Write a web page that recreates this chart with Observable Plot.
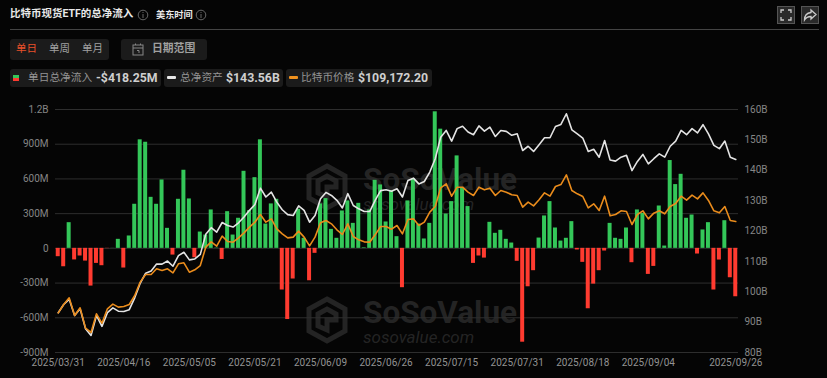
<!DOCTYPE html>
<html><head><meta charset="utf-8">
<script src="https://cdn.jsdelivr.net/npm/d3@7"></script>
<script src="https://cdn.jsdelivr.net/npm/@observablehq/plot@0.6"></script>
<style>
html,body{margin:0;padding:0;background:#050505;width:827px;height:378px;overflow:hidden;font-family:Roboto,"Noto Sans CJK SC",sans-serif}
.a{position:absolute;white-space:nowrap;line-height:1}
.box{position:absolute;background:#1b1b1b;border-radius:3px}
.lab{color:#949494;font-size:11px}
.val{color:#cfcfcf;font-size:12.3px;font-weight:700}
.wm{color:#242424;font-weight:700}
#chart{position:absolute;left:0;top:95px}
#chart svg{background:transparent;display:block}
</style></head><body>
<div class="a wm" style="left:363px;top:165px;font-size:31.5px;line-height:30px">SoSoValue</div>
<div class="a wm" style="left:363px;top:196px;font-size:17px;line-height:17px;font-weight:400;font-style:italic">sosovalue.com</div>
<div class="a wm" style="left:363px;top:298px;font-size:31.5px;line-height:30px">SoSoValue</div>
<div class="a wm" style="left:363px;top:329px;font-size:17px;line-height:17px;font-weight:400;font-style:italic">sosovalue.com</div>
<svg class="a" style="left:306px;top:163px" width="42" height="48" viewBox="0 0 42 48" fill="none" stroke="#242424" stroke-width="5"><path d="M21 3 39 13V35L21 45 3 35V13Z"/><path d="M12 18 21 13 30 18V24H21V34L12 30Z"/></svg>
<svg class="a" style="left:306px;top:296px" width="42" height="48" viewBox="0 0 42 48" fill="none" stroke="#242424" stroke-width="5"><path d="M21 3 39 13V35L21 45 3 35V13Z"/><path d="M12 18 21 13 30 18V24H21V34L12 30Z"/></svg>

<div class="a" style="left:10px;top:9px;font-size:10.5px;font-weight:700;color:#e8e8e8">比特币现货ETF的总净流入</div>
<svg class="a" style="left:137px;top:9px" width="12" height="12" fill="none" stroke="#666"><circle cx="6" cy="6" r="4.8"/><path d="M6 5V9M6 3V4"/></svg>
<div class="a" style="left:156px;top:10px;font-size:9.2px;font-weight:700;color:#e8e8e8">美东时间</div>
<svg class="a" style="left:195px;top:9px" width="12" height="12" fill="none" stroke="#666"><circle cx="6" cy="6" r="4.8"/><path d="M6 5V9M6 3V4"/></svg>
<div class="a" style="left:10px;top:29px;width:809px;height:1px;background:#444"></div>
<div class="a" style="left:777px;top:6px;width:16px;height:16px;background:#2a2a2a;border:1px solid #555"></div>
<div class="a" style="left:801px;top:6px;width:16px;height:16px;background:#2a2a2a;border:1px solid #555"></div>
<svg class="a" style="left:777px;top:6px" width="18" height="18" fill="none" stroke="#ccc" stroke-width="1.3"><path d="M4 7V4H7M11 4H14V7M14 11V14H11M7 14H4V11"/></svg>
<svg class="a" style="left:801px;top:6px" width="18" height="18" fill="none" stroke="#ccc" stroke-width="1.3"><path d="M10 4 15 8.5 10 13V10.5C7 10.5 5 11.5 3.5 14 3.5 10 6 7 10 6.5Z"/></svg>

<div class="box" style="left:10px;top:39px;width:99px;height:21px"></div>
<div class="a" style="left:16px;top:44px;font-size:10.5px;color:#e8502a">单日</div>
<div class="a" style="left:49px;top:44px;font-size:10.5px;color:#a0a0a0">单周</div>
<div class="a" style="left:82px;top:44px;font-size:10.5px;color:#a0a0a0">单月</div>
<div class="box" style="left:121px;top:39px;width:86px;height:21px"></div>
<svg class="a" style="left:131px;top:42px" width="14" height="15" fill="none" stroke="#888"><rect x="2" y="3" width="10" height="10"/><path d="M2 6H12M4.5 1.5V3M9.5 1.5V3M6 8.5H8V11"/></svg>
<div class="a" style="left:152px;top:44px;font-size:10.8px;font-weight:700;color:#a0a0a0">日期范围</div>

<div class="box" style="left:10px;top:69px;width:151px;height:18px"></div>
<div class="a" style="left:13px;top:75px;width:6px;height:3px;background:#34c759"></div>
<div class="a" style="left:13px;top:78px;width:6px;height:3px;background:#ff3b30"></div>
<div class="a lab" style="left:28px;top:73px;font-size:10.7px">单日总净流入</div>
<div class="a val" style="left:96px;top:72px">-$418.25M</div>
<div class="box" style="left:164px;top:69px;width:119px;height:18px"></div>
<div class="a" style="left:167px;top:76px;width:9px;height:3px;border-radius:1px;background:#e8e8e8"></div>
<div class="a lab" style="left:180px;top:73px;font-size:10.7px">总净资产</div>
<div class="a val" style="left:226px;top:72px">$143.56B</div>
<div class="box" style="left:286px;top:69px;width:146px;height:18px"></div>
<div class="a" style="left:289px;top:76px;width:9px;height:3px;border-radius:1px;background:#f0921e"></div>
<div class="a lab" style="left:301px;top:73px;font-size:10.7px">比特币价格</div>
<div class="a val" style="left:358px;top:72px">$109,172.20</div>

<div id="chart"></div>
<script>
const dates = [
"03/31","04/01","04/02","04/03","04/04","04/07","04/08","04/09","04/10","04/11","04/14","04/15","04/16","04/17",
"04/21","04/22","04/23","04/24","04/25","04/28","04/29","04/30","05/01","05/02","05/05","05/06","05/07","05/08","05/09",
"05/12","05/13","05/14","05/15","05/16","05/19","05/20","05/21","05/22","05/23","05/27","05/28","05/29","05/30",
"06/02","06/03","06/04","06/05","06/06","06/09","06/10","06/11","06/12","06/13","06/16","06/17","06/18","06/20",
"06/23","06/24","06/25","06/26","06/27","06/30","07/01","07/02","07/03","07/07","07/08","07/09","07/10","07/11",
"07/14","07/15","07/16","07/17","07/18","07/21","07/22","07/23","07/24","07/25","07/28","07/29","07/30","07/31",
"08/01","08/04","08/05","08/06","08/07","08/08","08/11","08/12","08/13","08/14","08/15","08/18","08/19","08/20","08/21","08/22",
"08/25","08/26","08/27","08/28","08/29","09/02","09/03","09/04","09/05","09/08","09/09","09/10","09/11","09/12",
"09/15","09/16","09/17","09/18","09/19","09/22","09/23","09/24","09/25","09/26"
].map(d => "2025/" + d);
const netFlowM = [
-72,-159,222,-100,-66,-110,-326,-130,-150,-2,1,78,-170,107,381,938,917,441,381,591,173,-58,424,675,427,-81,141,115,332,3,-96,317,115,260,
666,326,611,938,210,384,424,-360,-615,-265,338,87,-280,-43,384,430,164,87,323,410,216,389,5,332,588,548,228,499,101,-340,410,603,210,81,216,
1180,1030,297,404,799,519,361,-130,-66,-84,225,130,156,78,46,-112,-811,-332,-193,89,280,404,176,63,87,231,-14,-121,-522,-309,-193,-23,216,87,78,
176,-124,332,303,-225,-156,366,20,759,551,640,260,288,-49,159,222,-360,-101,239,-254,-418.25];
const totalAssetsB = [
93.1,95.8,97.5,92.2,94.4,87.8,85.6,92.2,88.6,93.1,94.7,93.6,93.5,94.1,98.0,102.8,106.1,106.8,109.1,109.1,110.1,108.4,111.9,113.0,110.5,110.8,112.3,118.9,121.1,119.6,122.8,121.8,121.3,122.7,
124.6,126.8,128.7,134.1,131.2,132.8,129.5,127.0,125.4,125.1,128.3,126.8,122.9,125.1,130.6,132.7,131.7,130.1,127.6,132.3,128.4,127.3,126.4,126.4,130.1,133.3,133.6,133.1,133.9,131.2,136.6,137.4,135.5,136.3,139.4,
143.8,150.9,153.1,149.6,153.7,154.5,152.6,151.7,154.6,152.9,154.2,151.1,153.1,152.8,151.5,152.0,146.5,147.9,146.2,148.4,150.7,150.7,154.4,155.1,158.6,153.3,152.0,150.6,146.2,146.9,144.3,149.8,143.4,143.0,144.3,
144.9,139.9,142.9,145.2,142.1,143.8,145.4,144.3,147.9,149.6,153.1,151.7,153.7,152.3,155.0,152.0,148.2,147.1,149.6,144.3,143.56];
const btcPriceK = [
82.40,84.84,86.80,81.62,83.87,77.91,76.64,82.11,79.37,83.57,84.94,84.06,84.26,84.84,87.48,91.39,93.64,93.64,95.30,94.81,95.30,94.12,96.76,97.06,94.32,95.00,96.27,101.65,103.21,101.94,104.87,103.31,103.11,104.38,
105.85,107.51,108.97,111.22,108.97,109.95,107.02,105.56,104.38,104.58,106.34,104.58,102.04,104.58,108.78,109.46,108.49,106.73,105.36,108.49,104.77,103.80,103.21,103.11,105.26,107.70,107.70,106.92,108.00,105.56,109.76,109.95,108.00,108.97,111.91,
113.57,119.04,120.21,116.60,119.23,119.23,117.77,116.79,119.23,118.45,118.94,116.79,118.26,117.77,116.99,116.79,113.37,114.84,113.76,115.52,117.57,116.60,119.43,120.01,122.85,118.26,117.28,116.50,113.18,114.35,112.39,116.60,110.83,111.22,112.30,
112.10,108.29,111.22,112.30,109.95,111.61,112.30,111.42,113.57,114.45,116.60,115.42,116.89,115.81,117.57,115.33,112.30,111.71,113.57,109.46,109.17];
const leftTicks = [-900,-600,-300,0,300,600,900,1200];
const leftLabels = ["-900M","-600M","-300M","0","300M","600M","900M","1.2B"];
const rightTicks = [80,90,100,110,120,130,140,150,160];
const xTicks = ["2025/03/31","2025/04/16","2025/05/05","2025/05/21","2025/06/09","2025/06/26","2025/07/15","2025/07/31","2025/08/18","2025/09/04","2025/09/26"];

const assetToY = d3.scaleLinear([80,160],[-900,1200]);
const priceToY = d3.scaleLinear([70.77,142.0],[-900,1200]);
const rows = dates.map((date,i)=>({date,flow:netFlowM[i],asset:assetToY(totalAssetsB[i]),price:priceToY(btcPriceK[i])}));

const chart = Plot.plot({
  width:827,height:283,marginTop:14,marginBottom:26,marginLeft:55,marginRight:89,
  style:{background:"transparent",fontFamily:"Roboto,sans-serif",fontSize:"10px",color:"#858585"},
  x:{type:"band",domain:dates,paddingInner:0.27,paddingOuter:0.135,round:false,label:null,axis:null},
  y:{domain:[-900,1200],label:null,axis:null},
  marks:[
    Plot.ruleY(leftTicks,{stroke:"#2e2e2e",strokeWidth:1}),
    Plot.barY(rows,{x:"date",y1:0,y2:"flow",fill:d=>d.flow>=0?"#34c759":"#ff3b30"}),
    Plot.line(rows,{x:"date",y:"asset",stroke:"#e4e4e4",strokeWidth:1.6,curve:"linear"}),
    Plot.line(rows,{x:"date",y:"price",stroke:"#ea8c1c",strokeWidth:1.6,curve:"linear"}),
    Plot.axisY(leftTicks,{anchor:"left",tickSize:0,tickPadding:7,label:null,tickFormat:d=>leftLabels[leftTicks.indexOf(d)],fill:"#858585"}),
    Plot.axisY(rightTicks.map(assetToY),{anchor:"right",tickSize:0,tickPadding:6,label:null,tickFormat:d=>Math.round(assetToY.invert(d))+"B",fill:"#858585"}),
    Plot.axisX(xTicks,{anchor:"bottom",tickSize:0,tickPadding:6,label:null,fill:"#939393"})
  ]
});
document.getElementById("chart").appendChild(chart);
</script>
</body></html>
